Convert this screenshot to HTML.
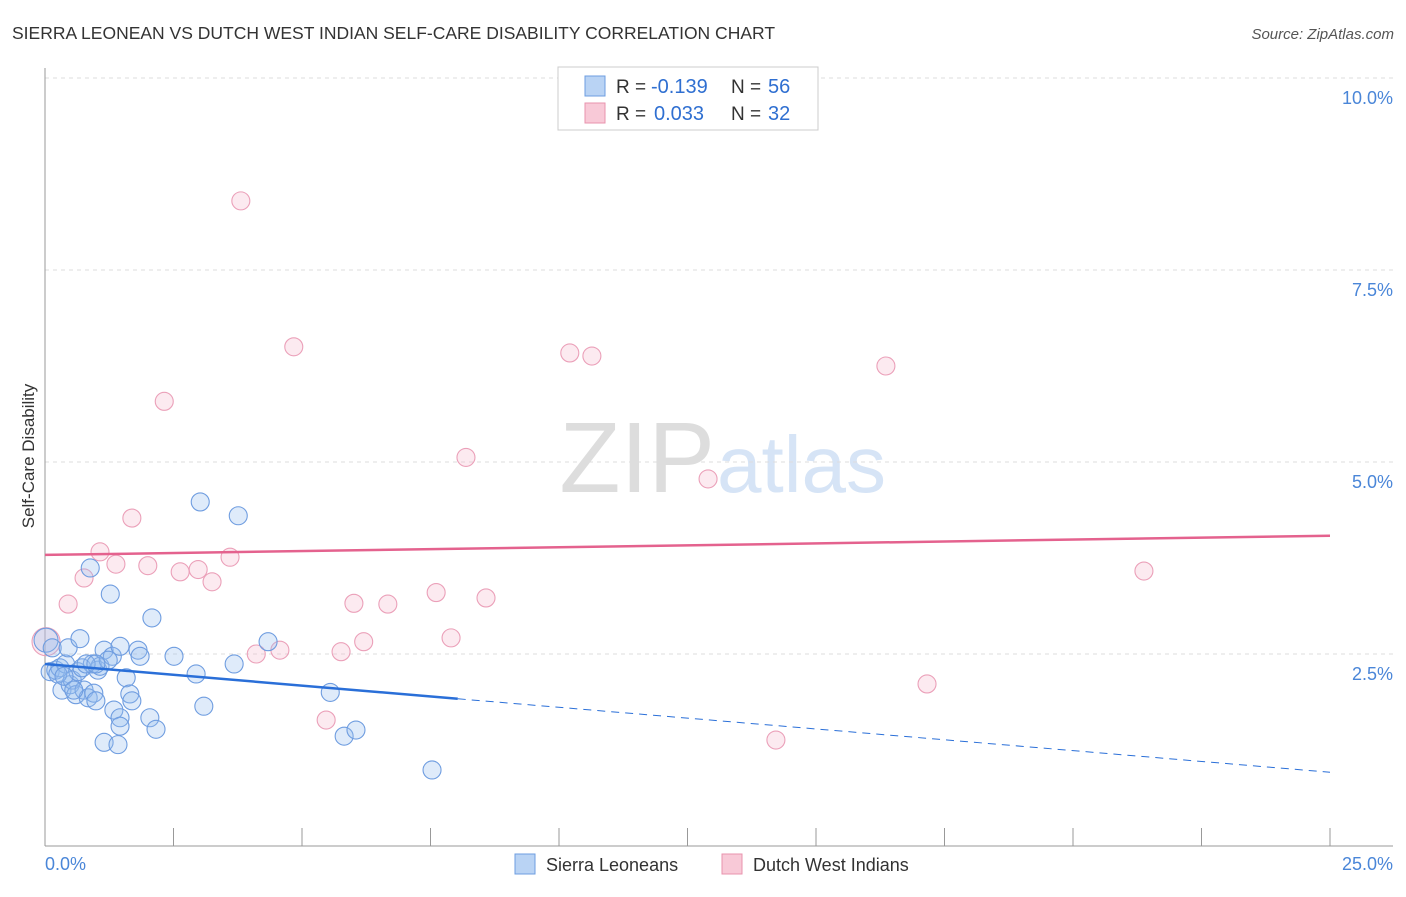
<!DOCTYPE html>
<html><head><meta charset="utf-8"><style>
body{margin:0;background:#fff;font-family:"Liberation Sans",sans-serif}
svg text{font-family:"Liberation Sans",sans-serif}
</style></head><body>
<svg id="c" width="1406" height="892">
<text x="12" y="39" font-size="17.5" fill="#333">SIERRA LEONEAN VS DUTCH WEST INDIAN SELF-CARE DISABILITY CORRELATION CHART</text>
<text x="1394" y="39" font-size="15" fill="#555" font-style="italic" text-anchor="end">Source: ZipAtlas.com</text>
<text x="34" y="456" font-size="17" fill="#333" text-anchor="middle" transform="rotate(-90 34 456)">Self-Care Disability</text>
<text x="715" y="492" font-size="100" fill="#ddd" text-anchor="end" font-family="Liberation Serif">ZIP</text>
<text x="717" y="492" font-size="80" fill="#d6e4f6">atlas</text>
<g id="grid"></g><g id="pts"></g><g id="trend"></g>
<g>
<rect x="558" y="67" width="260" height="63" fill="#fff" stroke="#ccc"/>
<rect x="585" y="76" width="20" height="20" fill="#b9d3f4" stroke="#6d9ee0"/>
<rect x="585" y="103" width="20" height="20" fill="#f8c9d7" stroke="#e893ae"/>
<text x="616" y="93" font-size="19" fill="#333">R =</text>
<text x="651" y="93" font-size="20" fill="#2f6fd1">-0.139</text>
<text x="731" y="93" font-size="19" fill="#333">N =</text>
<text x="768" y="93" font-size="20" fill="#2f6fd1">56</text>
<text x="616" y="120" font-size="19" fill="#333">R =</text>
<text x="654" y="120" font-size="20" fill="#2f6fd1">0.033</text>
<text x="731" y="120" font-size="19" fill="#333">N =</text>
<text x="768" y="120" font-size="20" fill="#2f6fd1">32</text>
</g>
<g>
<rect x="515" y="854" width="20" height="20" fill="#b9d3f4" stroke="#6d9ee0"/>
<text x="546" y="871" font-size="18" fill="#333">Sierra Leoneans</text>
<rect x="722" y="854" width="20" height="20" fill="#f8c9d7" stroke="#e893ae"/>
<text x="753" y="871" font-size="18" fill="#333">Dutch West Indians</text>
</g>
</svg>
<script>
const yTicks=[2.5,5,7.5,10];
const yTickLabels=["2.5%","5.0%","7.5%","10.0%"];
const xTickLabels=["0.0%","25.0%"];
const blueX=[0.02,0.14,0.1,0.21,0.29,0.4,0.45,0.33,0.49,0.53,0.6,0.64,0.68,0.72,0.76,0.84,0.88,0.92,0.95,0.99,1.03,1.07,1.15,1.15,1.27,1.31,1.34,1.42,1.46,1.46,1.46,1.58,1.65,1.69,1.81,1.85,2.04,2.08,2.16,2.51,2.94,3.02,3.09,3.68,3.76,4.34,5.55,5.82,6.05,7.53,0.25,0.37,0.8,0.56,1.23,0.99];
const blueY=[2.68,2.58,2.27,2.29,2.32,2.37,2.58,2.03,2.1,2.16,1.97,2.27,2.7,2.32,2.03,1.93,3.62,2.37,1.99,1.89,2.29,2.34,2.55,1.35,3.28,2.47,1.77,1.32,1.67,1.56,2.6,2.19,1.98,1.89,2.55,2.47,1.67,2.97,1.52,2.47,2.24,4.48,1.82,2.37,4.3,2.66,2.0,1.43,1.51,0.99,2.24,2.21,2.37,2.03,2.42,2.37];
const pinkX=[0.02,0.45,0.76,1.07,1.38,1.69,2.0,2.32,2.63,2.98,3.25,3.6,3.81,4.11,4.57,4.84,5.47,5.76,6.01,6.2,6.67,7.61,7.9,8.19,8.58,10.21,10.64,12.9,14.22,16.36,17.16,21.38];
const pinkY=[2.66,3.15,3.49,3.83,3.67,4.27,3.65,5.79,3.57,3.6,3.44,3.76,8.40,2.5,2.55,6.5,1.64,2.53,3.16,2.66,3.15,3.3,2.71,5.06,3.23,6.42,6.38,4.78,1.38,6.25,2.11,3.58];
const blueTrend=[2.37,0.96], blueSolidEnd=8.03;
const pinkTrend=[3.79,4.04];
const X=v=>45+v*51.4, Y=v=>846-v*76.8;
const NS="http://www.w3.org/2000/svg";
function mk(p,t,a){const e=document.createElementNS(NS,t);for(const k in a)e.setAttribute(k,a[k]);p.appendChild(e);return e;}
const grid=document.getElementById('grid');
yTicks.forEach((t,i)=>{
 const l=mk(grid,'line',{x1:45,x2:1393,y1:Y(t),y2:Y(t),stroke:'#ddd','stroke-dasharray':'4 4'});
 
 
 const tx=mk(grid,'text',{x:1393,y:Y(t)+26,'font-size':18,fill:'#4a86d8','text-anchor':'end'});
 tx.textContent=yTickLabels[i];
 
 
});
const ax=mk(grid,'line',{x1:45,x2:45,y1:68,y2:846,stroke:'#999'});


const bx=mk(grid,'line',{x1:45,x2:1393,y1:846,y2:846,stroke:'#999'});


for(let i=1;i<=10;i++){const v=i*2.5;const t=mk(grid,'line',{x1:X(v),x2:X(v),y1:828,y2:846,stroke:'#999'});
 
 }
[[0,'start',45],[25,'end',1393]].forEach((d,i)=>{const t=mk(grid,'text',{x:d[2],y:870,'font-size':18,fill:'#4a86d8','text-anchor':d[1]});t.textContent=xTickLabels[i];
 
 });
const pts=document.getElementById('pts');
pinkX.forEach((x,i)=>{const c=mk(pts,'circle',{cx:X(x),cy:Y(pinkY[i]),r:i==0?14:9,fill:'rgba(246,180,202,0.28)',stroke:'#eba0b9','stroke-width':1.1});
 
 });
blueX.forEach((x,i)=>{const c=mk(pts,'circle',{cx:X(x),cy:Y(blueY[i]),r:i==0?12:9,fill:'rgba(150,190,240,0.3)',stroke:'#6f9de0','stroke-width':1.1});
 
 });
const tr=document.getElementById('trend');
const bAt=v=>blueTrend[0]+(blueTrend[1]-blueTrend[0])*v/25;
const p1=mk(tr,'line',{x1:X(0),y1:Y(pinkTrend[0]),x2:X(25),y2:Y(pinkTrend[1]),stroke:'#e4628e','stroke-width':2.5});


const b1=mk(tr,'line',{x1:X(0),y1:Y(bAt(0)),x2:X(blueSolidEnd),y2:Y(bAt(blueSolidEnd)),stroke:'#2a6fd8','stroke-width':2.5});


const b2=mk(tr,'line',{x1:X(blueSolidEnd),y1:Y(bAt(blueSolidEnd)),x2:X(25),y2:Y(bAt(25)),stroke:'#2a6fd8','stroke-width':1,'stroke-dasharray':'8 6'});


</script>
</body></html>
